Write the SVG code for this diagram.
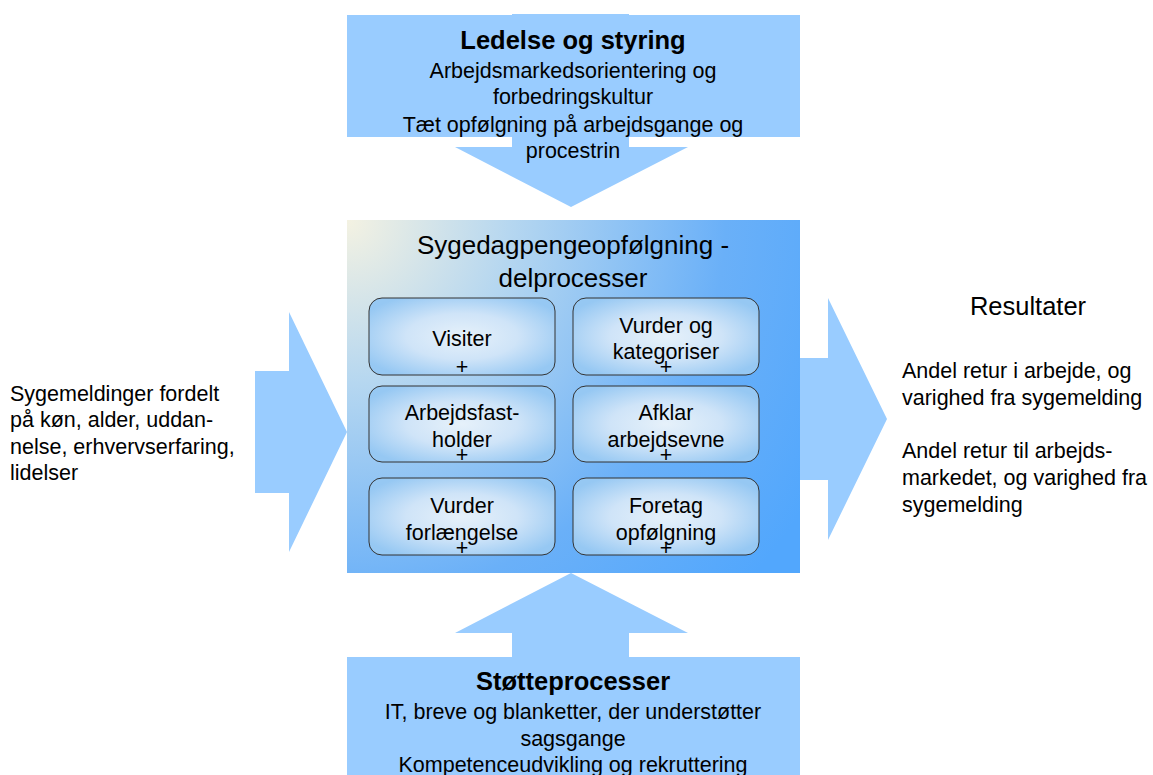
<svg xmlns="http://www.w3.org/2000/svg" width="1153" height="775" viewBox="0 0 1153 775">
<defs>
<radialGradient id="bg" gradientUnits="userSpaceOnUse" cx="347" cy="220" r="540">
<stop offset="0" stop-color="#f4f2e2"/>
<stop offset="0.3" stop-color="#b6d7f0"/>
<stop offset="0.7" stop-color="#6ab0f8"/>
<stop offset="1" stop-color="#52a7fd"/>
</radialGradient>
<radialGradient id="sb" cx="0.5" cy="0.5" r="0.6">
<stop offset="0" stop-color="#e6f1fa"/>
<stop offset="0.5" stop-color="#cfe4f8"/>
<stop offset="1" stop-color="#96c8f3"/>
</radialGradient>
</defs>
<style>
.arr{fill:#99ccff}
.t{font-family:"Liberation Sans",Arial,sans-serif;fill:#000}
.c{text-anchor:middle}
.b{font-weight:bold;font-size:25.5px}
.m{font-size:21.5px}
.sub{fill:url(#sb);stroke:#333;stroke-width:1}
.pl{font-family:"Liberation Sans",Arial,sans-serif;font-size:21.5px;text-anchor:middle}
</style>
<g id="connectors">
<polygon class="arr" points="512,14 629,14 629,147 688,147 571,207 455,147 512,147"/>
<polygon class="arr" points="512,700 629,700 629,633 688,633 571,573 455,633 512,633"/>
<polygon class="arr" points="255,371 289,371 289,312 347,432 289,552 289,493 255,493"/>
<polygon class="arr" points="760,358 828,358 828,298 887,419 828,540 828,480 760,480"/>
</g>
<g id="top">
<rect x="347" y="15" width="453" height="122" class="arr"/>
<text class="t c b" x="573" y="49">Ledelse og styring</text>
<text class="t c m" x="573" y="78">Arbejdsmarkedsorientering og</text>
<text class="t c m" x="573" y="104">forbedringskultur</text>
<text class="t c m" x="573" y="132">Tæt opfølgning på arbejdsgange og</text>
<text class="t c m" x="573" y="158">procestrin</text>
</g>
<g id="bottom">
<rect x="347" y="657" width="453" height="118" class="arr"/>
<text class="t c b" x="573" y="690">Støtteprocesser</text>
<text class="t c m" x="573" y="719">IT, breve og blanketter, der understøtter</text>
<text class="t c m" x="573" y="746">sagsgange</text>
<text class="t c m" x="573" y="772">Kompetenceudvikling og rekruttering</text>
</g>
<g id="center">
<rect x="347" y="220" width="453" height="353" fill="url(#bg)"/>
<text class="t c" font-size="26" x="573" y="254">Sygedagpengeopfølgning -</text>
<text class="t c" font-size="26" x="573" y="287">delprocesser</text>
</g>
<g id="visiter">
<rect class="sub" x="369" y="298" width="186" height="77" rx="13"/>
<text class="t c m" x="462" y="346">Visiter</text>
<text class="pl" x="462" y="374">+</text>
</g>
<g id="vurder-kat">
<rect class="sub" x="573" y="298" width="186" height="77" rx="13"/>
<text class="t c m" x="666" y="333">Vurder og</text>
<text class="t c m" x="666" y="359">kategoriser</text>
<text class="pl" x="666" y="374">+</text>
</g>
<g id="arbejdsfast">
<rect class="sub" x="369" y="386" width="186" height="76" rx="13"/>
<text class="t c m" x="462" y="420">Arbejdsfast-</text>
<text class="t c m" x="462" y="447">holder</text>
<text class="pl" x="462" y="462">+</text>
</g>
<g id="afklar">
<rect class="sub" x="573" y="386" width="186" height="76" rx="13"/>
<text class="t c m" x="666" y="420">Afklar</text>
<text class="t c m" x="666" y="447">arbejdsevne</text>
<text class="pl" x="666" y="462">+</text>
</g>
<g id="forlaengelse">
<rect class="sub" x="369" y="478" width="186" height="77" rx="13"/>
<text class="t c m" x="462" y="513">Vurder</text>
<text class="t c m" x="462" y="540">forlængelse</text>
<text class="pl" x="462" y="555">+</text>
</g>
<g id="foretag">
<rect class="sub" x="573" y="478" width="186" height="77" rx="13"/>
<text class="t c m" x="666" y="513">Foretag</text>
<text class="t c m" x="666" y="540">opfølgning</text>
<text class="pl" x="666" y="555">+</text>
</g>
<g id="input">
<text class="t m" x="10" y="401">Sygemeldinger fordelt</text>
<text class="t m" x="10" y="427">på køn, alder, uddan-</text>
<text class="t m" x="10" y="454">nelse, erhvervserfaring,</text>
<text class="t m" x="10" y="480">lidelser</text>
</g>
<g id="results">
<text class="t c" font-size="25.5" x="1028" y="315">Resultater</text>
<text class="t m" x="902" y="378">Andel retur i arbejde, og</text>
<text class="t m" x="902" y="405">varighed fra sygemelding</text>
<text class="t m" x="902" y="458">Andel retur til arbejds-</text>
<text class="t m" x="902" y="485">markedet, og varighed fra</text>
<text class="t m" x="902" y="512">sygemelding</text>
</g>
</svg>
